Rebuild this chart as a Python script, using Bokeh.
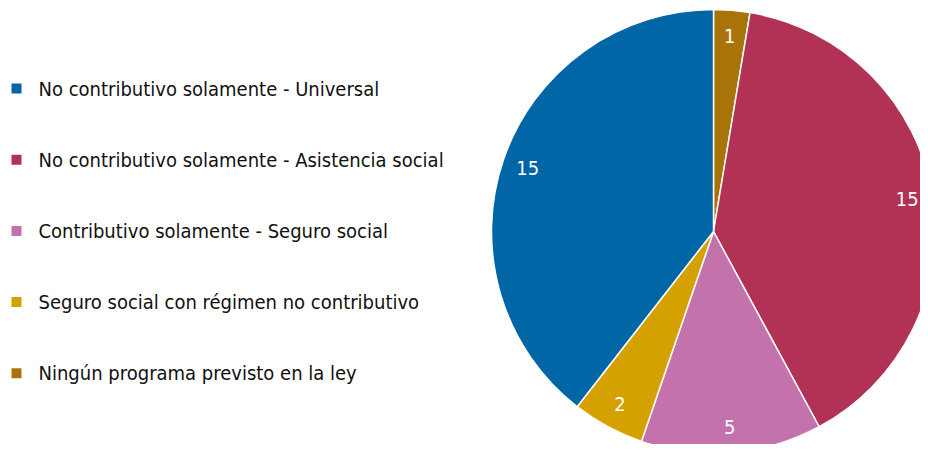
import math
from bokeh.plotting import figure
from bokeh.models import Range1d, ColumnDataSource
from bokeh.core.properties import value
from bokeh.embed import file_html
from bokeh.resources import INLINE

# Data (pie order clockwise from 12 o'clock)
pie_labels = ["Ningún programa previsto en la ley",
              "No contributivo solamente - Asistencia social",
              "Contributivo solamente - Seguro social",
              "Seguro social con régimen no contributivo",
              "No contributivo solamente - Universal"]
pie_values = [1, 15, 5, 2, 15]
pie_colors = ["#A8740A", "#B13254", "#C472AC", "#D5A100", "#0066A6"]

# Legend order
legend_labels = ["No contributivo solamente - Universal",
                 "No contributivo solamente - Asistencia social",
                 "Contributivo solamente - Seguro social",
                 "Seguro social con régimen no contributivo",
                 "Ningún programa previsto en la ley"]
legend_colors = ["#0066A6", "#B13254", "#C472AC", "#D5A100", "#A8740A"]

W, H = 920, 444
FONT = "DejaVu Sans Condensed"

p = figure(width=W, height=H, output_backend="svg", toolbar_location=None,
           x_range=Range1d(0, W), y_range=Range1d(0, H),
           min_border=0, outline_line_color=None)
p.axis.visible = False
p.grid.visible = False
p.background_fill_color = "white"

cx, cy, R = 713, H - 231, 222
total = sum(pie_values)
starts, ends, lx, ly = [], [], [], []
cum = 0
for v in pie_values:
    a0 = math.pi / 2 - 2 * math.pi * cum / total
    a1 = math.pi / 2 - 2 * math.pi * (cum + v) / total
    starts.append(a0)
    ends.append(a1)
    mid = (a0 + a1) / 2
    lx.append(cx + 0.885 * R * math.cos(mid))
    ly.append(cy + 0.885 * R * math.sin(mid))
    cum += v

src = ColumnDataSource(dict(s=starts, e=ends, c=pie_colors,
                            lx=lx, ly=ly, t=[str(v) for v in pie_values]))
p.wedge(x=cx, y=cy, radius=R, start_angle="s", end_angle="e", direction="clock",
        fill_color="c", line_color="white", line_width=1.5, source=src)
p.text(x="lx", y="ly", text="t", source=src, text_color="white",
       text_font=value(FONT), text_font_size="20px",
       text_align="center", text_baseline="middle")

ly_leg = [H - (88 + i * 71.2) for i in range(len(legend_labels))]
lsrc = ColumnDataSource(dict(y=ly_leg, c=legend_colors, t=legend_labels))
p.scatter(x=16, y="y", marker="square", size=10, fill_color="c", line_color=None, source=lsrc)
p.text(x=38, y="y", text="t", source=lsrc, text_color="#111111",
       text_font=value(FONT), text_font_size="20px",
       text_align="left", text_baseline="middle")

open("out.html", "w").write(file_html(p, INLINE))
